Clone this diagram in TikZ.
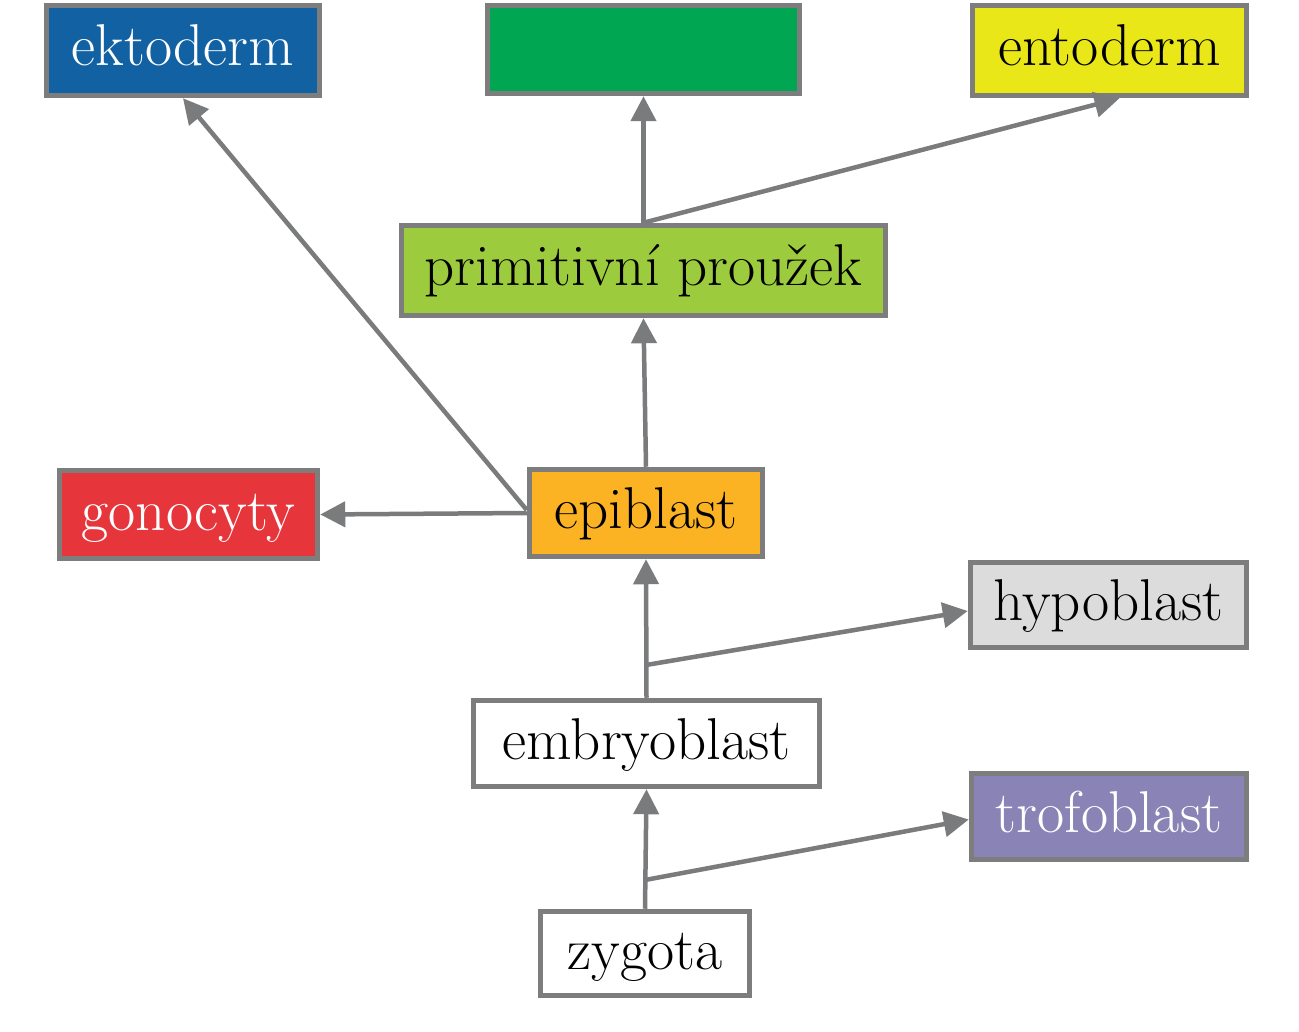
\documentclass[tikz,border=0pt]{standalone}
\usetikzlibrary{arrows.meta}
\definecolor{bordergray}{HTML}{7D7D7D}
\definecolor{arrowgray}{HTML}{7A7B7C}
\definecolor{cblue}{HTML}{1262A3}
\definecolor{cgreen}{HTML}{00A651}
\definecolor{cyellow}{HTML}{E9E718}
\definecolor{clgreen}{HTML}{9CCB3D}
\definecolor{cred}{HTML}{E6363C}
\definecolor{corange}{HTML}{FBB323}
\definecolor{clgray}{HTML}{DCDCDC}
\definecolor{cpurple}{HTML}{8A84B6}
\tikzset{
  box/.style={draw=bordergray, line width=5.5pt, inner sep=0pt,
    font=\fontsize{59}{66}\selectfont, text height=38pt, text depth=7pt},
  conn/.style={draw=arrowgray, line width=4.5pt},
  arr/.style={conn, -{Triangle[length=25pt,width=25pt]}},
}
\begin{document}
\begin{tikzpicture}[x=1pt,y=-1pt]
\useasboundingbox (0,0) rectangle (1299,1032);
\node[box, fill=cblue, text=white, minimum width=273pt, minimum height=90pt] (ekto) at (183,50.5) {ektoderm};
\node[box, fill=cgreen, minimum width=312pt, minimum height=88pt] (meso) at (643.5,49.5) {};
\node[box, fill=cyellow, minimum width=274pt, minimum height=90pt] (ento) at (1109.5,50.5) {entoderm};
\node[box, fill=clgreen, minimum width=484pt, minimum height=90pt] (prim) at (643.5,270.5) {primitivní proužek};
\node[box, fill=cred, text=white, minimum width=258pt, minimum height=88pt] (gono) at (188.5,514.5) {gonocyty};
\node[box, fill=corange, minimum width=233pt, minimum height=87pt] (epi) at (646,513) {epiblast};
\node[box, fill=clgray, minimum width=276pt, minimum height=85pt] (hypo) at (1108.5,605) {hypoblast};
\node[box, fill=white, minimum width=346pt, minimum height=86pt] (embryo) at (646.5,743.5) {embryoblast};
\node[box, fill=cpurple, text=white, minimum width=275pt, minimum height=86pt] (trofo) at (1109,816.5) {trofoblast};
\node[box, fill=white, minimum width=209pt, minimum height=84pt] (zyg) at (645,953.5) {zygota};
\coordinate (j1) at (645,880);
\coordinate (j2) at (646,665);
% connectors
\draw[arr] (zyg.north) -- (embryo.south);
\draw[arr] (j1) -- ([yshift=-3pt]trofo.west);
\draw[arr] (embryo.north) -- (epi.south);
\draw[arr] (j2) -- ([yshift=-6pt]hypo.west);
\draw[arr] (epi.north) -- (prim.south);
\draw[arr] (epi.west) -- (gono.east);
\draw[arr] ([yshift=3pt]epi.west) -- (ekto.south);
\draw[arr] (prim.north) -- (meso.south);
\draw[arr] (prim.north) -- ([xshift=10pt]ento.south);
\end{tikzpicture}
\end{document}
